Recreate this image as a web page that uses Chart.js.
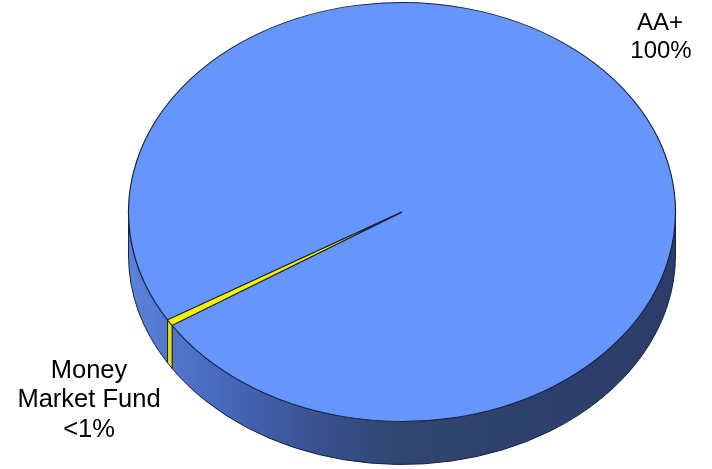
<!DOCTYPE html>
<html>
<head>
<meta charset="utf-8">
<script src="https://cdn.jsdelivr.net/npm/chart.js@4/dist/chart.umd.min.js"></script>
<style>
  html, body { margin: 0; padding: 0; background: #ffffff; }
  #wrap { width: 712px; height: 469px; }
</style>
</head>
<body>
<div id="wrap"><canvas id="c" width="712" height="469"></canvas></div>
<script>
// ---- data ----
const categories = ['AA+', 'Money Market Fund'];
const values = [99.5, 0.5];
const pctLabels = ['100%', '<1%'];

// ---- styling ----
const topColors = ['#6695fb', '#f4f400'];
const GEO = { cx: 402, cy: 212, rx: 273.5, ry: 209.5, depth: 43 };

const pie3d = {
  id: 'pie3d',
  beforeDatasetsDraw(chart) {
    const ctx = chart.ctx;
    const meta = chart.getDatasetMeta(0);
    const first = meta.data[0];
    const { x, y, outerRadius: R } = first.getProps(['x', 'y', 'outerRadius'], true);
    const { cx, cy, rx, ry, depth } = GEO;

    const grad = ctx.createLinearGradient(cx - rx, 0, cx + rx, 0);
    grad.addColorStop(0.0, '#5c82da');
    grad.addColorStop(0.18, '#4767ba');
    grad.addColorStop(0.33, '#3a5392');
    grad.addColorStop(0.5, '#30456f');
    grad.addColorStop(1.0, '#2b3c68');
    const sideFills = [grad, '#e2e21a'];

    function drawSide(t0, t1, fill) {
      ctx.beginPath();
      ctx.ellipse(cx, cy, rx, ry, 0, t0, t1, false);
      ctx.ellipse(cx, cy + depth, rx, ry, 0, t1, t0, true);
      ctx.closePath();
      ctx.fillStyle = fill;
      ctx.fill();
      ctx.lineWidth = 1;
      ctx.strokeStyle = '#18203a';
      ctx.stroke();
    }

    ctx.save();
    meta.data.forEach((el, i) => {
      const { startAngle, endAngle } = el.getProps(['startAngle', 'endAngle'], true);
      for (const k of [-4, -2, 0, 2, 4]) {
        const lo = Math.max(startAngle, k * Math.PI);
        const hi = Math.min(endAngle, (k + 1) * Math.PI);
        if (hi > lo) drawSide(lo - k * Math.PI, hi - k * Math.PI, sideFills[i]);
      }
    });
    ctx.restore();

    ctx.save();
    ctx.translate(cx, cy);
    ctx.scale(rx / R, ry / R);
    ctx.translate(-x, -y);
  },
  afterDatasetsDraw(chart) {
    chart.ctx.restore();
  },
  afterDraw(chart) {
    const ctx = chart.ctx;
    ctx.save();
    ctx.fillStyle = '#000000';
    ctx.textAlign = 'center';
    ctx.textBaseline = 'alphabetic';
    // AA+ label
    ctx.font = '24px "Liberation Sans", Arial, sans-serif';
    ctx.fillText(categories[0], 660, 30);
    ctx.fillText(pctLabels[0], 661, 58);
    // Money Market Fund label
    ctx.font = '25.5px "Liberation Sans", Arial, sans-serif';
    const words = categories[1].split(' ');
    ctx.fillText(words[0], 89, 378);
    ctx.fillText(words.slice(1).join(' '), 89, 407);
    ctx.fillText(pctLabels[1], 89, 437);
    ctx.restore();
  }
};

new Chart(document.getElementById('c'), {
  type: 'pie',
  data: {
    labels: categories,
    datasets: [{
      data: values,
      backgroundColor: topColors,
      borderColor: '#16203e',
      borderWidth: 1,
      clip: false
    }]
  },
  options: {
    responsive: false,
    animation: false,
    events: [],
    rotation: 239,
    layout: { padding: 0 },
    plugins: {
      legend: { display: false },
      tooltip: { enabled: false },
      title: { display: false }
    }
  },
  plugins: [pie3d]
});
</script>
</body>
</html>
